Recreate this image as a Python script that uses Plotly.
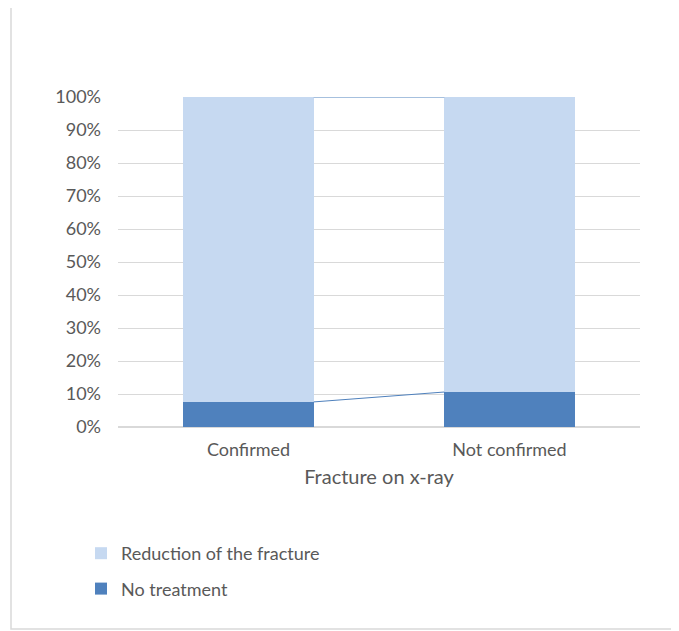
import plotly.graph_objects as go

categories = ["Confirmed", "Not confirmed"]
no_treatment = [7.6, 10.6]
reduction = [92.4, 89.4]
y_ticks = [0, 10, 20, 30, 40, 50, 60, 70, 80, 90, 100]

OFF = 8  # default page body margin
W, H = 679 - OFF, 631 - OFF
# page-pixel plot area
PL, PR, PT, PB = 118, 640, 97, 427
L, T = PL - OFF, PT - OFF
R, B = W - (PR - OFF), H - (PB - OFF)
bar_w = 0.5
xs = list(range(len(categories)))

light = "#C6D9F1"
dark = "#4F81BD"
txt = "#595959"
font = "Lato"

fig = go.Figure()
fig.add_trace(go.Bar(x=xs, y=no_treatment, name="No treatment", marker=dict(color=dark, line=dict(width=0)),
                     width=bar_w, legendgroup="b", legendrank=2))
fig.add_trace(go.Bar(x=xs, y=reduction, name="Reduction of the fracture", marker=dict(color=light, line=dict(width=0)),
                     width=bar_w, legendgroup="a", legendrank=1))

# series lines connecting stacked segment tops
cum1 = no_treatment
cum2 = [a + b for a, b in zip(no_treatment, reduction)]
for cum in (cum1, cum2):
    for i in range(len(xs) - 1):
        fig.add_trace(go.Scatter(x=[xs[i] + bar_w / 2, xs[i + 1] - bar_w / 2], y=[cum[i], cum[i + 1]],
                                 mode="lines", line=dict(color=dark, width=1), showlegend=False, hoverinfo="skip"))

pw, ph = PR - PL, PB - PT
def px_x(p):
    return (p - PL) / pw
def px_y(p):
    return (PB - p) / ph

fig.add_shape(type="rect", xref="paper", yref="paper",
              x0=px_x(11), x1=px_x(690), y0=px_y(629), y1=px_y(7),
              line=dict(color="#D9D9D9", width=1.5), fillcolor="rgba(0,0,0,0)", layer="below")

fig.update_layout(
    width=W, height=H,
    margin=dict(l=L, r=R, t=T, b=B),
    paper_bgcolor="white", plot_bgcolor="white",
    barmode="stack",
    font=dict(family=font, color=txt, size=18),
    showlegend=True,
    legend=dict(traceorder="grouped", orientation="v",
                x=px_x(81), xanchor="left", y=px_y(535), yanchor="top",
                font=dict(size=18, color=txt), itemwidth=30, bgcolor="rgba(0,0,0,0)",
                tracegroupgap=9),
    xaxis=dict(range=[-0.5, len(categories) - 0.5], tickvals=xs, ticktext=categories,
               showgrid=False, zeroline=False, showline=False, ticks="",
               ticklabelstandoff=10, tickfont=dict(size=18, color=txt),
               title=dict(text="Fracture on x-ray", font=dict(size=20, color=txt), standoff=10)),
    yaxis=dict(range=[0, 100], tickvals=y_ticks, ticktext=[f"{v}%" for v in y_ticks],
               showgrid=True, gridcolor="#D9D9D9", gridwidth=1, zeroline=True, zerolinecolor="#D9D9D9",
               showline=False, ticks="", ticklabelstandoff=16, tickfont=dict(size=18, color=txt)),
)

fig.write_html("out.html")
